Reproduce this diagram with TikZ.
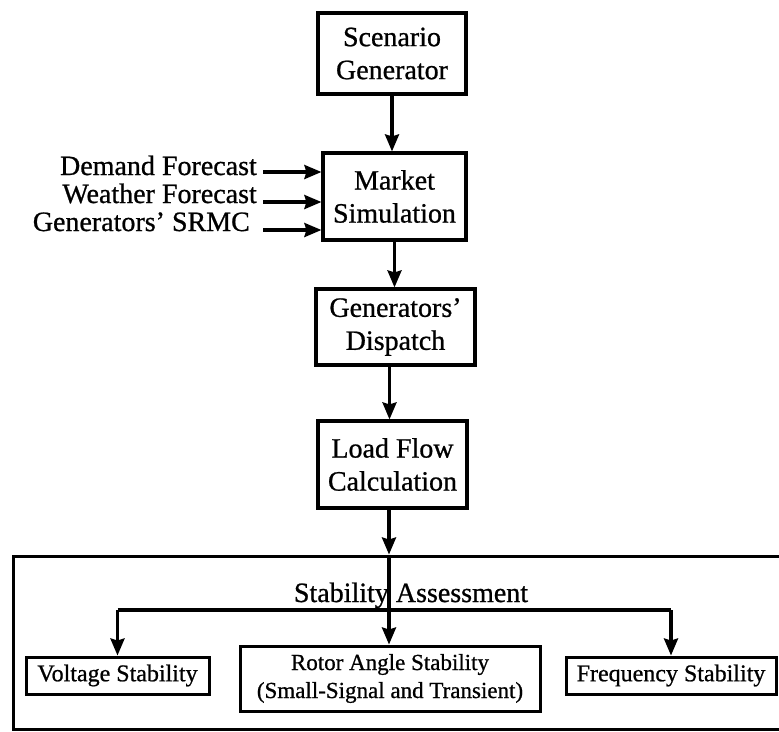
\documentclass[tikz,border=0pt]{standalone}
\usepackage{fontspec}
\setmainfont{Liberation Serif}[FakeBold=0.8]
\usetikzlibrary{arrows.meta}

\begin{document}
\begin{tikzpicture}[x=1pt,y=-1pt,
  block/.style={draw, line width=3.2pt, align=center, inner sep=0pt,
    font=\fontsize{28}{33}\selectfont},
  subblock/.style={draw, line width=3pt, align=center, inner sep=0pt,
    font=\fontsize{24}{28}\selectfont},
  inlabel/.style={anchor=base east, inner sep=0pt, font=\fontsize{28}{28}\selectfont},
  arr/.style={line width=3.2pt, -{Stealth[length=17pt,width=14pt,inset=2pt]}}]
\useasboundingbox (0,0) rectangle (779,731);

%%%%%DRAW MAIN CHAIN%%%%%
\node[block, minimum width=148pt, minimum height=81pt] (scen) at (392,53.5) {Scenario\\Generator};
\node[block, minimum width=143pt, minimum height=87pt] (market) at (394.5,196.5) {Market\\Simulation};
\node[block, minimum width=159pt, minimum height=76pt] (dispatch) at (395.5,327) {Generators'\\Dispatch};
\node[block, minimum width=149pt, minimum height=87pt] (loadflow) at (392.5,464.5) {Load Flow\\Calculation};

\draw[arr] (scen.south) -- (scen.south |- market.north);
\draw[arr] (market.south) -- (market.south |- dispatch.north);
\draw[arr] ([xshift=-6pt]dispatch.south) -- ([xshift=-6pt]dispatch.south |- loadflow.north);

%%%%%DRAW INPUTS%%%%%
\node[inlabel] (demand) at (257,175) {Demand Forecast};
\node[inlabel] (weather) at (257,203) {Weather Forecast};
\node[inlabel] (srmc) at (250,231) {Generators' SRMC};
\coordinate (dem-in) at (263,172);
\coordinate (wea-in) at (263,202);
\coordinate (srmc-in) at (263,230);
\draw[arr] (dem-in) -- (dem-in -| market.west);
\draw[arr] (wea-in) -- (wea-in -| market.west);
\draw[arr] (srmc-in) -- (srmc-in -| market.west);

%%%%%DRAW STABILITY BOX%%%%%
\node[draw, line width=3pt, inner sep=0pt, minimum width=782pt, minimum height=173pt] (assess) at (404,642.5) {};
\node[anchor=base, inner sep=0pt, font=\fontsize{28}{33}\selectfont] (title) at (411,602) {Stability Assessment};
\node[subblock, minimum width=183pt, minimum height=37pt] (voltage) at (117.5,675.5) {Voltage Stability};
\node[subblock, minimum width=300pt, minimum height=65pt, font=\fontsize{23}{28}\selectfont] (rotor) at (390,678.5) {Rotor Angle Stability\\(Small-Signal and Transient)};
\node[subblock, minimum width=210pt, minimum height=37pt] (freq) at (671,675.5) {Frequency Stability};

\coordinate (bus) at (389,610);
\draw[arr] (bus |- loadflow.south) -- (bus |- assess.north);
\draw[arr] (bus |- assess.north) -- (bus |- rotor.north);
\draw[line width=3.2pt] (bus -| voltage.north) -- (bus -| freq.north);
\draw[arr] (bus -| voltage.north) -- (voltage.north);
\draw[arr] (bus -| freq.north) -- (freq.north);

\end{tikzpicture}
\end{document}
